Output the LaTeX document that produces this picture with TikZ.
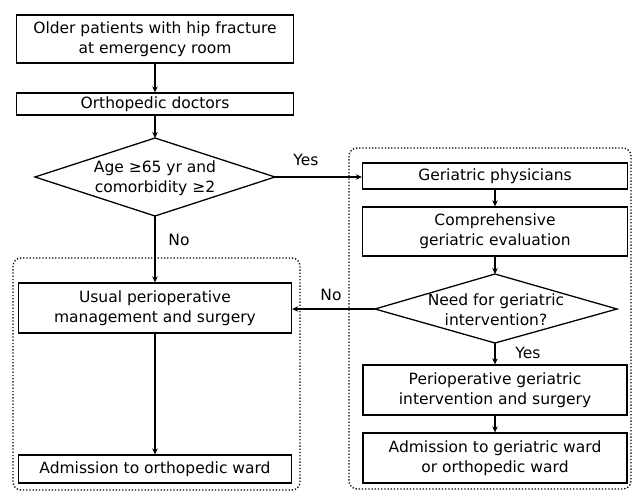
\documentclass[tikz,border=0pt]{standalone}
\usepackage{fontspec}
\setmainfont{DejaVu Sans}
\usetikzlibrary{arrows.meta}
\begin{document}
\begin{tikzpicture}[x=1pt,y=-1pt,
  font=\fontsize{15.5}{20}\selectfont,
  box/.style={draw,line width=1.3pt,align=center,inner sep=0pt},
  txt/.style={align=center,inner sep=0pt},
  grp/.style={draw,line width=1.3pt,dash pattern=on 1.3pt off 1.9pt,rounded corners=8pt},
  arr/.style={line width=1.3pt,-{Stealth[length=6pt,width=5.5pt]}},
  lbl/.style={inner sep=0pt}]
\useasboundingbox (0,0) rectangle (636,492);
\draw[grp] (13,258) rectangle (300,490);
\draw[grp] (349,148) rectangle (631,489);
\node[box,minimum width=277pt,minimum height=48pt] (b1) at (155,39) {Older patients with hip fracture\\at emergency room};
\node[box,minimum width=277pt,minimum height=22pt] (b2) at (155,104) {Orthopedic doctors};
% diamond 1
\coordinate (d1n) at (155,138);
\coordinate (d1e) at (275,177);
\coordinate (d1s) at (155,216);
\coordinate (d1w) at (35,177);
\draw[line width=1.3pt] (d1n) -- (d1e) -- (d1s) -- (d1w) -- cycle;
\node[txt] (d1) at (155,178) {Age ≥65 yr and\\comorbidity ≥2};
\node[box,minimum width=265pt,minimum height=26pt] (g1) at (495,176) {Geriatric physicians};
\node[box,minimum width=265pt,minimum height=49pt] (g2) at (495,231.5) {Comprehensive\\geriatric evaluation};
% diamond 2
\coordinate (d2n) at (495,274);
\coordinate (d2e) at (617,309);
\coordinate (d2s) at (495,343);
\coordinate (d2w) at (375,309);
\draw[line width=1.3pt] (d2n) -- (d2e) -- (d2s) -- (d2w) -- cycle;
\node[txt] (d2) at (496,310) {Need for geriatric\\intervention?};
\node[box,minimum width=273pt,minimum height=50pt] (u1) at (155,308) {Usual perioperative\\management and surgery};
\node[box,minimum width=273pt,minimum height=28pt] (u2) at (155,469) {Admission to orthopedic ward};
\node[box,minimum width=264pt,minimum height=50pt] (g3) at (495,390) {Perioperative geriatric\\intervention and surgery};
\node[box,minimum width=264pt,minimum height=50pt] (g4) at (495,458) {Admission to geriatric ward\\or orthopedic ward};
\draw[arr] (b1) -- (b2);
\draw[arr] (b2.south) -- (d1n);
\draw[arr] (d1e) -- (d1e -| g1.west);
\draw[arr] (d1s) -- (d1s |- u1.north);
\draw[arr] (g1) -- (g2);
\draw[arr] (g2.south) -- (g2.south |- d2n);
\draw[arr] (d2w) -- (d2w -| u1.east);
\draw[arr] (d2s) -- (d2s |- g3.north);
\draw[arr] (g3) -- (g4);
\draw[arr] (u1) -- (u2);
\node[lbl] (yes1) at (306,160) {Yes};
\node[lbl] (no1) at (179,240) {No};
\node[lbl] (no2) at (331,295) {No};
\node[lbl] (yes2) at (528,353) {Yes};
\end{tikzpicture}
\end{document}
